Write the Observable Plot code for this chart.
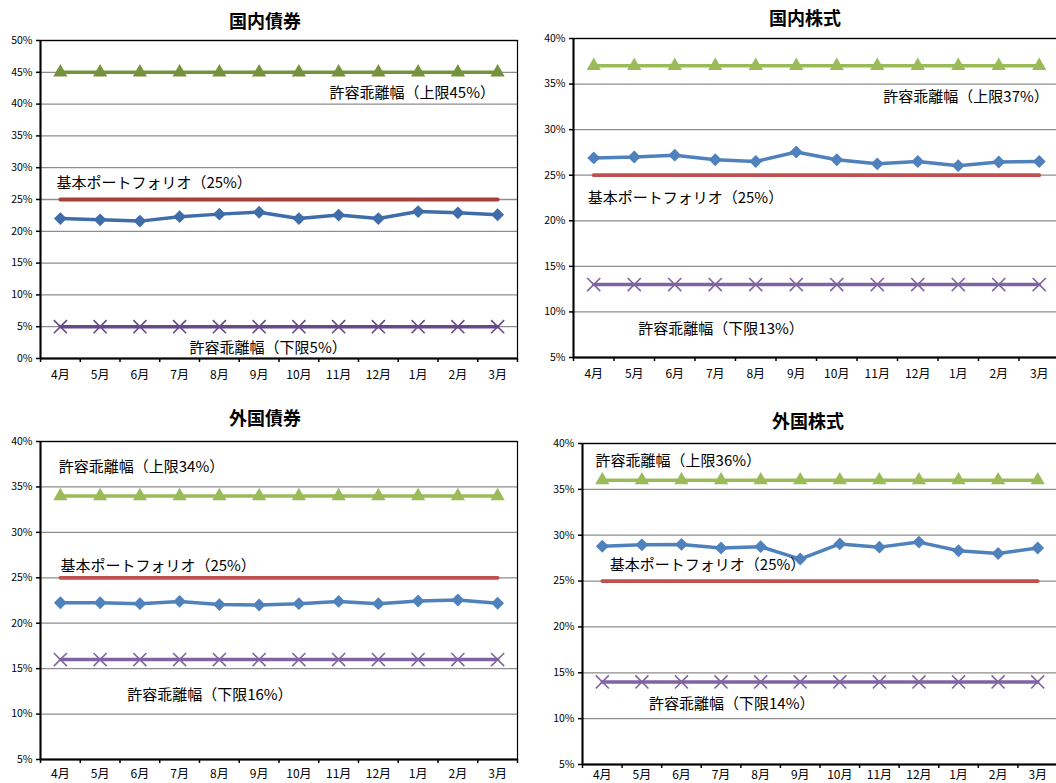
<!DOCTYPE html>
<html><head><meta charset="utf-8">
<script src="https://cdn.jsdelivr.net/npm/d3@7"></script>
<script src="https://cdn.jsdelivr.net/npm/@observablehq/plot@0.6"></script>
<style>
html,body{margin:0;padding:0;width:1056px;height:783px;overflow:hidden;background:#fff;position:relative;}
.panel{position:absolute;}
.title{position:absolute;font-family:"Noto Sans CJK JP",sans-serif;font-weight:bold;font-size:18px;transform:translate(-50%,-50%);white-space:nowrap;color:#000;}
</style></head><body>
<script>
// ---- data ----
const months = ["4月","5月","6月","7月","8月","9月","10月","11月","12月","1月","2月","3月"];
const titles = ["国内債券","国内株式","外国債券","外国株式"];

const domesticBonds   = [22.0, 21.8, 21.6, 22.3, 22.7, 23.0, 22.0, 22.55, 22.0, 23.1, 22.9, 22.6];
const domesticStocks  = [26.9, 27.0, 27.2, 26.7, 26.5, 27.55, 26.7, 26.25, 26.5, 26.05, 26.45, 26.5];
const foreignBonds    = [22.25, 22.25, 22.15, 22.4, 22.05, 22.0, 22.15, 22.4, 22.15, 22.45, 22.55, 22.2];
const foreignStocks   = [28.8, 28.95, 29.0, 28.6, 28.75, 27.4, 29.05, 28.7, 29.25, 28.3, 28.0, 28.6];

const upperLimits = [45, 37, 34, 36];
const basePolicy  = [25, 25, 25, 25];
const lowerLimits = [5, 13, 16, 14];

const yDomains = [[0, 50], [5, 40], [5, 40], [5, 40]];

const upperLabels = upperLimits.map(v => `許容乖離幅（上限${v}%）`);
const baseLabels  = basePolicy.map(v => `基本ポートフォリオ（${v}%）`);
const lowerLabels = lowerLimits.map(v => `許容乖離幅（下限${v}%）`);

const actuals = [domesticBonds, domesticStocks, foreignBonds, foreignStocks];

// ---- layout / style (not data) ----
const panels = [
  {left:0,   top:30,  width:530, mL:40, mR:13, mT:10, mB:32, titleX:265, titleY:20, pad:12,
   colors:{up:"#76923C", base:"#A5403C", act:"#3E6DAA", low:"#65498A"},
   lab:{up:[6.77,41.7], base:[-0.1,27.5], low:[3.25,1.6]}},
  {left:530, top:28,  width:530, mL:43, mR:1,  mT:10, mB:31, titleX:805, titleY:17, pad:12,
   colors:{up:"#9BBB59", base:"#C0504D", act:"#4F81BD", low:"#8064A2"},
   lab:{up:[7.15,33.56], base:[-0.15,22.48], low:[1.1,8.15]}},
  {left:0,   top:431, width:530, mL:40, mR:13, mT:10, mB:32, titleX:265, titleY:417, pad:10,
   colors:{up:"#9BBB59", base:"#C0504D", act:"#4F81BD", low:"#8064A2"},
   lab:{up:[-0.04,37.17], base:[0.0,26.28], low:[1.68,12.12]}},
  {left:530, top:433, width:530, mL:52, mR:3,  mT:10, mB:29, titleX:808, titleY:420, pad:6,
   colors:{up:"#9BBB59", base:"#C0504D", act:"#4F81BD", low:"#8064A2"},
   lab:{up:[-0.17,38.07], base:[0.19,26.7], low:[1.18,11.54]}}
];

const FONT = '"Noto Sans CJK JP", sans-serif';

panels.forEach((p, k) => {
  const rows = (vals) => vals.map((v, i) => ({i, month: months[i], v}));
  const act = rows(actuals[k]);
  const up = rows(months.map(() => upperLimits[k]));
  const base = rows(months.map(() => basePolicy[k]));
  const low = rows(months.map(() => lowerLimits[k]));
  const [y0, y1] = yDomains[k];
  const yTicks = d3.range(y0, y1 + 0.001, 5);
  const height = 360;
  const labels = [
    {x: p.lab.up[0],   y: p.lab.up[1],   t: upperLabels[k]},
    {x: p.lab.base[0], y: p.lab.base[1], t: baseLabels[k]},
    {x: p.lab.low[0],  y: p.lab.low[1],  t: lowerLabels[k]}
  ];
  const svg = Plot.plot({
    width: p.width, height,
    marginLeft: p.mL, marginRight: p.mR, marginTop: p.mT, marginBottom: p.mB,
    style: {fontFamily: FONT, background: "white", overflow: "visible"},
    x: {domain: [-0.5, 11.5], axis: null},
    y: {domain: [y0, y1], axis: null},
    marks: [
      Plot.ruleY(yTicks, {stroke: "#8e8e8e", strokeWidth: 1.3}),
      Plot.frame({stroke: "#000", strokeWidth: 1.2}),
      Plot.ruleX([-0.5], {stroke: "#000", strokeWidth: 2}),
      Plot.ruleY([y0], {stroke: "#000", strokeWidth: 2}),
      Plot.axisY({ticks: yTicks, tickFormat: d => d + "%", tickSize: 4, tickPadding: 4, fontSize: 10.5, stroke: "#000", strokeWidth: 1.5, color: "#000"}),
      Plot.axisX({ticks: d3.range(13).map(i => i - 0.5), tickFormat: () => "", tickSize: 4, stroke: "#000", strokeWidth: 1.5}),
      Plot.axisX({ticks: d3.range(12), tickFormat: i => months[i], tickSize: 0, tickPadding: p.pad, fontSize: 12, color: "#000"}),
      Plot.line(up, {x: "i", y: "v", stroke: p.colors.up, strokeWidth: 3.5}),
      Plot.dot(up, {x: "i", y: "v", symbol: "triangle", r: 5.3, fill: p.colors.up, stroke: "none"}),
      Plot.line(base, {x: "i", y: "v", stroke: p.colors.base, strokeWidth: 3.8, strokeLinecap: "round"}),
      Plot.line(low, {x: "i", y: "v", stroke: p.colors.low, strokeWidth: 3.5}),
      Plot.dot(low, {x: "i", y: "v", symbol: "times", r: 6, stroke: p.colors.low, strokeWidth: 1.6}),
      Plot.line(act, {x: "i", y: "v", stroke: p.colors.act, strokeWidth: 3.5}),
      Plot.dot(act, {x: "i", y: "v", symbol: "diamond2", r: 5.8, fill: p.colors.act, stroke: "none"}),
      Plot.text(labels, {x: "x", y: "y", text: "t", textAnchor: "start", fontSize: 15, fill: "#000"})
    ]
  });
  svg.classList.add("panel");
  svg.style.left = p.left + "px";
  svg.style.top = p.top + "px";
  svg.style.position = "absolute";
  document.body.appendChild(svg);
  const t = document.createElement("div");
  t.className = "title";
  t.textContent = titles[k];
  t.style.left = p.titleX + "px";
  t.style.top = p.titleY + "px";
  document.body.appendChild(t);
});
</script>
</body></html>
